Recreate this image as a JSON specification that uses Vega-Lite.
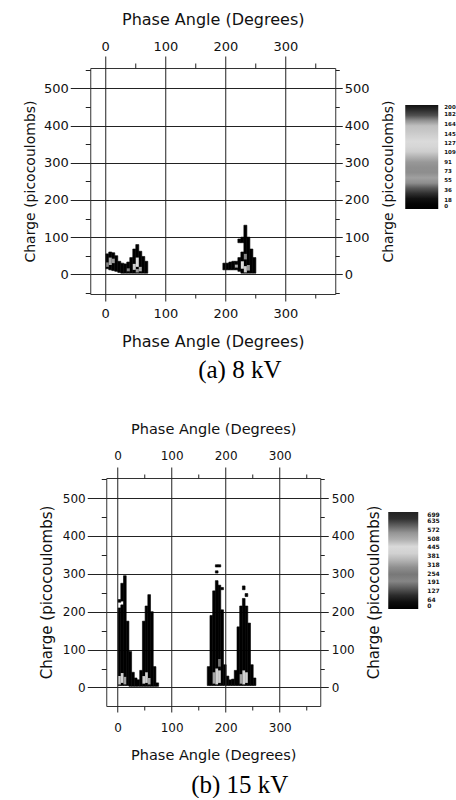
{
  "$schema": "https://vega.github.io/schema/vega-lite/v6.json",
  "padding": {"left": 22, "top": 10, "right": 0, "bottom": 0},
  "background": "#ffffff",
  "config": {
    "view": {"stroke": "#333333", "strokeWidth": 1},
    "axis": {"labelFont": "DejaVu Sans", "titleFont": "DejaVu Sans", "titleFontWeight": "normal", "labelColor": "#111111", "titleColor": "#111111", "tickColor": "#222222", "domain": false}
  },
  "spacing": 36,
  "center": true,
  "resolve": {"scale": {"x": "independent", "y": "independent", "color": "independent"}, "legend": {"color": "independent"}},
  "vconcat": [
    {
      "width": 245,
      "height": 226,
      "title": {"text": "(a) 8 kV", "orient": "bottom", "anchor": "middle", "frame": "bounds", "font": "Liberation Serif", "fontSize": 25, "fontWeight": "normal", "color": "#000000", "offset": 9},
      "data": {"values": [
        {"p": 2.5, "q0": 15, "q1": 55, "n": 5},
        {"p": 7.5, "q0": 12, "q1": 60, "n": 5},
        {"p": 12.5, "q0": 10, "q1": 58, "n": 5},
        {"p": 17.5, "q0": 8, "q1": 50, "n": 5},
        {"p": 22.5, "q0": 5, "q1": 35, "n": 5},
        {"p": 27.5, "q0": 3, "q1": 30, "n": 5},
        {"p": 32.5, "q0": 3, "q1": 28, "n": 5},
        {"p": 37.5, "q0": 3, "q1": 33, "n": 5},
        {"p": 42.5, "q0": 3, "q1": 45, "n": 5},
        {"p": 47.5, "q0": 3, "q1": 68, "n": 5},
        {"p": 52.5, "q0": 3, "q1": 80, "n": 5},
        {"p": 57.5, "q0": 3, "q1": 62, "n": 5},
        {"p": 62.5, "q0": 3, "q1": 48, "n": 5},
        {"p": 67.5, "q0": 3, "q1": 35, "n": 5},
        {"p": 7.5, "q0": 25, "q1": 45, "n": 55},
        {"p": 12.5, "q0": 30, "q1": 42, "n": 91},
        {"p": 2.5, "q0": 20, "q1": 32, "n": 73},
        {"p": 47.5, "q0": 12, "q1": 28, "n": 109},
        {"p": 52.5, "q0": 20, "q1": 45, "n": 127},
        {"p": 52.5, "q0": 5, "q1": 14, "n": 91},
        {"p": 57.5, "q0": 8, "q1": 20, "n": 55},
        {"p": 37.5, "q0": 8, "q1": 16, "n": 73},
        {"p": 197.5, "q0": 12, "q1": 30, "n": 5},
        {"p": 202.5, "q0": 12, "q1": 30, "n": 5},
        {"p": 207.5, "q0": 12, "q1": 33, "n": 5},
        {"p": 212.5, "q0": 12, "q1": 35, "n": 5},
        {"p": 217.5, "q0": 12, "q1": 35, "n": 5},
        {"p": 222.5, "q0": 8, "q1": 45, "n": 5},
        {"p": 222.5, "q0": 85, "q1": 95, "n": 5},
        {"p": 227.5, "q0": 3, "q1": 60, "n": 5},
        {"p": 227.5, "q0": 85, "q1": 100, "n": 5},
        {"p": 232.5, "q0": 3, "q1": 132, "n": 5},
        {"p": 237.5, "q0": 3, "q1": 100, "n": 5},
        {"p": 242.5, "q0": 3, "q1": 68, "n": 5},
        {"p": 247.5, "q0": 3, "q1": 45, "n": 5},
        {"p": 227.5, "q0": 15, "q1": 35, "n": 127},
        {"p": 232.5, "q0": 5, "q1": 22, "n": 109},
        {"p": 232.5, "q0": 40, "q1": 55, "n": 73},
        {"p": 237.5, "q0": 10, "q1": 25, "n": 91},
        {"p": 217.5, "q0": 18, "q1": 26, "n": 55}
      ]},
      "resolve": {"scale": {"x": "shared", "y": "shared"}, "axis": {"x": "independent", "y": "independent"}},
      "layer": [
        {
          "transform": [{"filter": "datum.n < 20"}],
          "mark": {"type": "rect", "binSpacing": 0, "fill": "#000000", "stroke": "#000000", "strokeWidth": 0.6},
          "encoding": {
            "x": {"field": "p", "type": "quantitative", "bin": {"step": 5},
              "scale": {"domain": [-25, 383], "nice": false, "zero": false},
              "axis": {"orient": "bottom", "values": [0, 50, 100, 150, 200, 250, 300, 350], "title": "Phase Angle (Degrees)",
                "labelExpr": "datum.value % 100 === 0 ? format(datum.value, 'd') : ''",
                "grid": true, "gridColor": "#222222", "gridWidth": 1,
                "gridOpacity": {"condition": {"test": "datum.value % 100 === 0", "value": 1}, "value": 0},
                "tickSize": {"condition": {"test": "datum.value % 100 === 0", "value": 7}, "value": 4},
                "labelFontSize": 13, "titleFontSize": 16, "labelPadding": 6, "titlePadding": 13}},
            "y": {"field": "q1", "type": "quantitative",
              "scale": {"domain": [-53, 555], "nice": false, "zero": false},
              "axis": {"orient": "left", "values": [-50, 0, 50, 100, 150, 200, 250, 300, 350, 400, 450, 500, 550], "title": "Charge (picocoulombs)",
                "labelExpr": "datum.value % 100 === 0 ? format(datum.value, 'd') : ''",
                "grid": true, "gridColor": "#222222", "gridWidth": 1,
                "gridOpacity": {"condition": {"test": "datum.value % 100 === 0", "value": 1}, "value": 0},
                "tickSize": {"condition": {"test": "datum.value % 100 === 0", "value": 20}, "value": 5},
                "labelFontSize": 13, "titleFontSize": 14, "labelPadding": 2, "titlePadding": 6}},
            "y2": {"field": "q0"}
          }
        },
        {
          "transform": [{"filter": "datum.n >= 20"}],
          "mark": {"type": "rect", "binSpacing": 0},
          "encoding": {
            "x": {"field": "p", "type": "quantitative", "bin": {"step": 5},
              "scale": {"domain": [-25, 383], "nice": false, "zero": false}, "axis": null},
            "y": {"field": "q1", "type": "quantitative",
              "scale": {"domain": [-53, 555], "nice": false, "zero": false}, "axis": null},
            "y2": {"field": "q0"},
            "color": {"field": "n", "type": "quantitative",
              "scale": {"domain": [0, 18, 36, 55, 73, 91, 109, 127, 145, 164, 182, 200],
                "range": ["#000000", "#080808", "#444444", "#aaaaaa", "#888888", "#999999", "#cccccc", "#dddddd", "#cccccc", "#bbbbbb", "#444444", "#111111"]},
              "legend": {"type": "gradient", "orient": "none", "legendX": 315, "legendY": 37, "direction": "vertical", "title": null,
                "gradientLength": 104, "gradientThickness": 33, "gradientStrokeWidth": 0,
                "values": [0, 18, 36, 55, 73, 91, 109, 127, 145, 164, 182, 200], "format": "d",
                "labelFontSize": 5.5, "labelFont": "DejaVu Sans", "labelFontWeight": "bold", "labelOffset": 6, "labelOverlap": false, "labelBaseline": "middle", "labelColor": "#111111"}}
          }
        },
        {
          "mark": {"type": "point", "opacity": 0},
          "encoding": {
            "x": {"field": "p", "type": "quantitative",
              "scale": {"domain": [-25, 383], "nice": false, "zero": false},
              "axis": {"orient": "top", "values": [0, 50, 100, 150, 200, 250, 300, 350], "title": "Phase Angle (Degrees)",
                "labelExpr": "datum.value % 100 === 0 ? format(datum.value, 'd') : ''",
                "grid": false,
                "tickSize": {"condition": {"test": "datum.value % 100 === 0", "value": 12}, "value": 5},
                "labelFontSize": 13, "titleFontSize": 16, "labelPadding": 3, "titlePadding": 13}},
            "y": {"field": "q1", "type": "quantitative",
              "scale": {"domain": [-53, 555], "nice": false, "zero": false},
              "axis": {"orient": "right", "values": [-50, 0, 50, 100, 150, 200, 250, 300, 350, 400, 450, 500, 550], "title": "Charge (picocoulombs)",
                "labelExpr": "datum.value % 100 === 0 ? format(datum.value, 'd') : ''",
                "grid": false, "titleAngle": 270, "titleBaseline": "top",
                "tickSize": {"condition": {"test": "datum.value % 100 === 0", "value": 7}, "value": 4},
                "labelFontSize": 13, "titleFontSize": 14, "labelPadding": 2, "titlePadding": 12}}
          }
        }
      ]
    },
    {
      "width": 214,
      "height": 228,
      "title": {"text": "(b) 15 kV", "orient": "bottom", "anchor": "middle", "frame": "bounds", "font": "Liberation Serif", "fontSize": 25, "fontWeight": "normal", "color": "#000000", "offset": 11},
      "data": {"values": [
        {"p": 2.5, "q0": 5, "q1": 210, "n": 10},
        {"p": 2.5, "q0": 225, "q1": 232, "n": 10},
        {"p": 7.5, "q0": 5, "q1": 218, "n": 10},
        {"p": 7.5, "q0": 228, "q1": 275, "n": 10},
        {"p": 12.5, "q0": 5, "q1": 295, "n": 10},
        {"p": 17.5, "q0": 5, "q1": 175, "n": 10},
        {"p": 22.5, "q0": 3, "q1": 95, "n": 10},
        {"p": 27.5, "q0": 3, "q1": 40, "n": 10},
        {"p": 32.5, "q0": 3, "q1": 25, "n": 10},
        {"p": 37.5, "q0": 3, "q1": 20, "n": 10},
        {"p": 42.5, "q0": 3, "q1": 45, "n": 10},
        {"p": 47.5, "q0": 3, "q1": 175, "n": 10},
        {"p": 52.5, "q0": 3, "q1": 215, "n": 10},
        {"p": 57.5, "q0": 3, "q1": 245, "n": 10},
        {"p": 62.5, "q0": 3, "q1": 200, "n": 10},
        {"p": 67.5, "q0": 3, "q1": 55, "n": 10},
        {"p": 72.5, "q0": 3, "q1": 12, "n": 10},
        {"p": 167.5, "q0": 5, "q1": 55, "n": 10},
        {"p": 172.5, "q0": 5, "q1": 190, "n": 10},
        {"p": 177.5, "q0": 5, "q1": 255, "n": 10},
        {"p": 182.5, "q0": 5, "q1": 282, "n": 10},
        {"p": 187.5, "q0": 5, "q1": 270, "n": 10},
        {"p": 192.5, "q0": 5, "q1": 205, "n": 10},
        {"p": 197.5, "q0": 5, "q1": 60, "n": 10},
        {"p": 202.5, "q0": 5, "q1": 30, "n": 10},
        {"p": 207.5, "q0": 5, "q1": 20, "n": 10},
        {"p": 212.5, "q0": 5, "q1": 22, "n": 10},
        {"p": 217.5, "q0": 5, "q1": 45, "n": 10},
        {"p": 222.5, "q0": 5, "q1": 160, "n": 10},
        {"p": 227.5, "q0": 5, "q1": 215, "n": 10},
        {"p": 232.5, "q0": 5, "q1": 235, "n": 10},
        {"p": 237.5, "q0": 5, "q1": 215, "n": 10},
        {"p": 242.5, "q0": 5, "q1": 170, "n": 10},
        {"p": 247.5, "q0": 5, "q1": 60, "n": 10},
        {"p": 252.5, "q0": 5, "q1": 25, "n": 10},
        {"p": 182.5, "q0": 302, "q1": 308, "n": 10},
        {"p": 182.5, "q0": 318, "q1": 324, "n": 10},
        {"p": 187.5, "q0": 318, "q1": 324, "n": 10},
        {"p": 192.5, "q0": 258, "q1": 264, "n": 10},
        {"p": 232.5, "q0": 258, "q1": 268, "n": 10},
        {"p": 237.5, "q0": 240, "q1": 248, "n": 10},
        {"p": 2.5, "q0": 8, "q1": 30, "n": 400},
        {"p": 7.5, "q0": 12, "q1": 38, "n": 460},
        {"p": 12.5, "q0": 8, "q1": 28, "n": 330},
        {"p": 47.5, "q0": 10, "q1": 30, "n": 400},
        {"p": 52.5, "q0": 12, "q1": 40, "n": 460},
        {"p": 57.5, "q0": 8, "q1": 25, "n": 330},
        {"p": 177.5, "q0": 10, "q1": 40, "n": 330},
        {"p": 182.5, "q0": 8, "q1": 50, "n": 460},
        {"p": 187.5, "q0": 12, "q1": 45, "n": 400},
        {"p": 187.5, "q0": 55, "q1": 75, "n": 254},
        {"p": 227.5, "q0": 10, "q1": 35, "n": 330},
        {"p": 232.5, "q0": 8, "q1": 45, "n": 460},
        {"p": 237.5, "q0": 12, "q1": 40, "n": 400}
      ]},
      "resolve": {"scale": {"x": "shared", "y": "shared"}, "axis": {"x": "independent", "y": "independent"}},
      "layer": [
        {
          "transform": [{"filter": "datum.n < 20"}],
          "mark": {"type": "rect", "binSpacing": 0, "fill": "#000000", "stroke": "#000000", "strokeWidth": 0.6},
          "encoding": {
            "x": {"field": "p", "type": "quantitative", "bin": {"step": 5},
              "scale": {"domain": [-21, 375], "nice": false, "zero": false},
              "axis": {"orient": "bottom", "values": [0, 50, 100, 150, 200, 250, 300, 350], "title": "Phase Angle (Degrees)",
                "labelExpr": "datum.value % 100 === 0 ? format(datum.value, 'd') : ''",
                "grid": true, "gridColor": "#222222", "gridWidth": 1,
                "gridOpacity": {"condition": {"test": "datum.value % 100 === 0", "value": 1}, "value": 0},
                "tickSize": {"condition": {"test": "datum.value % 100 === 0", "value": 6}, "value": 4},
                "labelFontSize": 12, "titleFontSize": 14.5, "labelPadding": 10, "titlePadding": 15}},
            "y": {"field": "q1", "type": "quantitative",
              "scale": {"domain": [-49, 553], "nice": false, "zero": false},
              "axis": {"orient": "left", "values": [-50, 0, 50, 100, 150, 200, 250, 300, 350, 400, 450, 500, 550], "title": "Charge (picocoulombs)",
                "labelExpr": "datum.value % 100 === 0 ? format(datum.value, 'd') : ''",
                "grid": true, "gridColor": "#222222", "gridWidth": 1,
                "gridOpacity": {"condition": {"test": "datum.value % 100 === 0", "value": 1}, "value": 0},
                "tickSize": {"condition": {"test": "datum.value % 100 === 0", "value": 19}, "value": 5},
                "labelFontSize": 12, "titleFontSize": 15, "labelPadding": 2, "titlePadding": 8}},
            "y2": {"field": "q0"}
          }
        },
        {
          "transform": [{"filter": "datum.n >= 20"}],
          "mark": {"type": "rect", "binSpacing": 0},
          "encoding": {
            "x": {"field": "p", "type": "quantitative", "bin": {"step": 5},
              "scale": {"domain": [-21, 375], "nice": false, "zero": false}, "axis": null},
            "y": {"field": "q1", "type": "quantitative",
              "scale": {"domain": [-49, 553], "nice": false, "zero": false}, "axis": null},
            "y2": {"field": "q0"},
            "color": {"field": "n", "type": "quantitative",
              "scale": {"domain": [0, 64, 127, 191, 254, 318, 381, 445, 508, 572, 635, 699],
                "range": ["#000000", "#111111", "#444444", "#888888", "#777777", "#999999", "#cccccc", "#dddddd", "#aaaaaa", "#888888", "#333333", "#222222"]},
              "legend": {"type": "gradient", "orient": "none", "legendX": 282, "legendY": 34, "direction": "vertical", "title": null,
                "gradientLength": 97, "gradientThickness": 30, "gradientStrokeWidth": 0,
                "values": [0, 64, 127, 191, 254, 318, 381, 445, 508, 572, 635, 699], "format": "d",
                "labelFontSize": 6, "labelFont": "DejaVu Sans", "labelFontWeight": "bold", "labelOffset": 9, "labelOverlap": false, "labelBaseline": "middle", "labelColor": "#111111"}}
          }
        },
        {
          "mark": {"type": "point", "opacity": 0},
          "encoding": {
            "x": {"field": "p", "type": "quantitative",
              "scale": {"domain": [-21, 375], "nice": false, "zero": false},
              "axis": {"orient": "top", "values": [0, 50, 100, 150, 200, 250, 300, 350], "title": "Phase Angle (Degrees)",
                "labelExpr": "datum.value % 100 === 0 ? format(datum.value, 'd') : ''",
                "grid": false,
                "tickSize": {"condition": {"test": "datum.value % 100 === 0", "value": 11}, "value": 4},
                "labelFontSize": 12, "titleFontSize": 14.5, "labelPadding": 5, "titlePadding": 13}},
            "y": {"field": "q1", "type": "quantitative",
              "scale": {"domain": [-49, 553], "nice": false, "zero": false},
              "axis": {"orient": "right", "values": [-50, 0, 50, 100, 150, 200, 250, 300, 350, 400, 450, 500, 550], "title": "Charge (picocoulombs)",
                "labelExpr": "datum.value % 100 === 0 ? format(datum.value, 'd') : ''",
                "grid": false, "titleAngle": 270, "titleBaseline": "top",
                "tickSize": {"condition": {"test": "datum.value % 100 === 0", "value": 8}, "value": 4},
                "labelFontSize": 12, "titleFontSize": 15, "labelPadding": 3, "titlePadding": 12}}
          }
        }
      ]
    }
  ]
}
